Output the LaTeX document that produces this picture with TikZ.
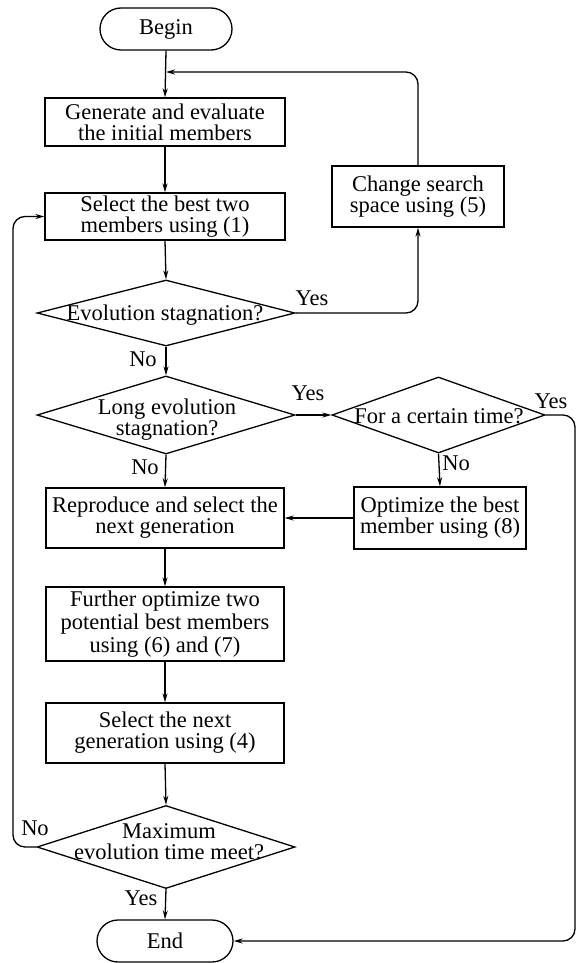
\documentclass[tikz,border=0pt]{standalone}
\usepackage{fontspec}
\setmainfont{Liberation Serif}
\usetikzlibrary{shapes.geometric,shapes.misc,arrows.meta}
\begin{document}
\begin{tikzpicture}[x=1pt,y=-1pt,
  font=\fontsize{22.5}{21}\selectfont,
  line width=1.3pt,
  box/.style={draw, rectangle, align=center, inner sep=0pt},
  term/.style={draw, rounded rectangle, inner sep=0pt, minimum height=42pt},
  dia/.style={draw, diamond, inner sep=0pt},
  txt/.style={align=center, inner sep=0pt},
  lbl/.style={inner sep=0pt},
  arr/.style={-{Stealth[length=9pt,width=5pt]}},
  loopline/.style={rounded corners=12pt}]
\useasboundingbox (0,0) rectangle (576,963);

% main column
\node[term, minimum width=132pt] (begin) at (166,29) {Begin};
\node[box, minimum width=240pt, minimum height=48pt] (gen) at (165,122)
  {Generate and evaluate\\the initial members};
\node[box, minimum width=240pt, minimum height=47pt] (sel) at (165,216.5)
  {Select the best two\\members using (1)};
\node[dia, minimum width=258pt, minimum height=66pt] (d1) at (166,313) {};
\node[txt] (d1t) at (165,315) {Evolution stagnation?};
\node[dia, minimum width=258pt, minimum height=78pt] (d2) at (166,415) {};
\node[txt] (d2t) at (167,420) {Long evolution\\stagnation?};
\node[box, minimum width=238pt, minimum height=60pt] (rep) at (165,518)
  {Reproduce and select the\\next generation};
\node[box, minimum width=238pt, minimum height=74pt] (fur) at (165,624)
  {Further optimize two\\[2pt]potential best members\\[2pt]using (6) and (7)};
\node[box, minimum width=238pt, minimum height=60pt] (nxt) at (165,733)
  {Select the next\\generation using (4)};
\node[dia, minimum width=258pt, minimum height=83pt] (d4) at (166,847) {};
\node[txt] (d4t) at (169,842) {Maximum\\evolution time meet?};
\node[term, minimum width=136pt] (end) at (165,941) {End};

% right column
\node[box, minimum width=172pt, minimum height=61pt] (chg) at (418,196.5)
  {Change search\\space using (5)};
\node[dia, minimum width=213pt, minimum height=76pt] (d3) at (438.5,415) {};
\node[txt] (d3t) at (439,416) {For a certain time?};
\node[box, minimum width=172pt, minimum height=62pt] (opt) at (440,518)
  {Optimize the best\\member using (8)};

% helper points for the outer loops
\coordinate (j1) at (166,72);
\coordinate (rt) at (575,415);
\coordinate (lf) at (13,847);

% straight flow
\draw[arr] (begin.south) -- (gen.north);
\draw[arr] (gen.south) -- (sel.north);
\draw[arr] (sel.south) -- (d1.north);
\draw[arr] (d1.south) -- (d2.north);
\draw[arr] (d2.south) -- (rep.north);
\draw[arr] (rep.south) -- (fur.north);
\draw[arr] (fur.south) -- (nxt.north);
\draw[arr] (nxt.south) -- (d4.north);
\draw[arr] (d4.south) -- (end.north);
\draw[arr] (d2.east) -- (d3.west);
\draw[arr] (d3.south) -- (opt.north);
\draw[arr] (opt.west) -- (rep.east);

% loops
\draw[arr, loopline] (d1.east) -| (chg.south);
\draw[arr, loopline] (chg.north) |- (j1);
\draw[arr, loopline] (d3.east) -- (rt) |- (end.east);
\draw[arr, loopline] (d4.west) -- (lf) |- (sel.west);

% branch labels
\node[lbl] at (312,298) {Yes};
\node[lbl] at (143,359) {No};
\node[lbl] at (308,393) {Yes};
\node[lbl] at (145,467) {No};
\node[lbl] at (551,401) {Yes};
\node[lbl] at (456,463) {No};
\node[lbl] at (35,828) {No};
\node[lbl] at (141,898) {Yes};
\end{tikzpicture}
\end{document}
